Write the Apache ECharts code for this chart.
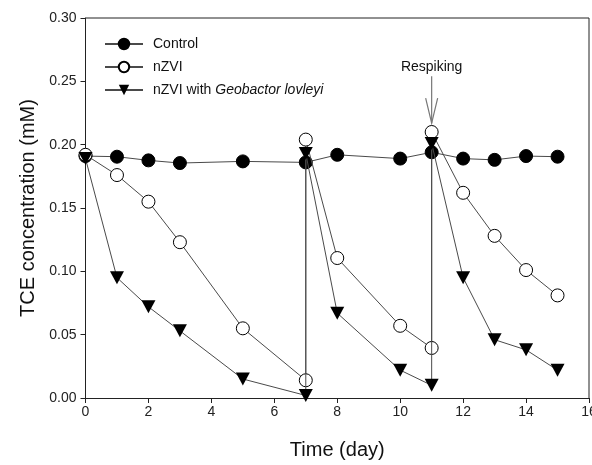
<!DOCTYPE html>
<html>
<head>
<meta charset="utf-8">
<script src="https://cdn.jsdelivr.net/npm/echarts@6/dist/echarts.min.js"></script>
<style>
html,body{margin:0;padding:0;background:#fff;}
#c{width:592px;height:465px;}
</style>
</head>
<body>
<div id="c"></div>
<script>
// ---- data ----
const controlDays = [0, 1, 2, 3, 5, 7, 8, 10, 11, 12, 13, 14, 15];
const controlTCE  = [0.191, 0.1905, 0.1876, 0.1855, 0.1868, 0.186, 0.192, 0.189, 0.194, 0.189, 0.188, 0.191, 0.1905];

const nzviDays = [0, 1, 2, 3, 5, 7, 7, 8, 10, 11, 11, 12, 13, 14, 15];
const nzviTCE  = [0.192, 0.176, 0.155, 0.123, 0.055, 0.014, 0.204, 0.1105, 0.057, 0.0395, 0.21, 0.162, 0.128, 0.101, 0.081];

const geoDays = [0, 1, 2, 3, 5, 7, 7, 8, 10, 11, 11, 12, 13, 14, 15];
const geoTCE  = [0.189, 0.095, 0.072, 0.053, 0.015, 0.002, 0.193, 0.067, 0.022, 0.01, 0.201, 0.095, 0.046, 0.038, 0.022];

const seriesNames = ['Control', 'nZVI', 'nZVI with Geobactor lovleyi'];
const respikeDay = 11;
const respikeLabel = 'Respiking';

// ---- chart ----
const font = 'Arial, "Liberation Sans", sans-serif';
const lineCol = '#4a4a4a';
const triPath = 'path://M0,0 L10,0 L5,9 Z';
const pair = (xs, ys) => xs.map((x, i) => [x, ys[i]]);

const chart = echarts.init(document.getElementById('c'), null, {renderer: 'canvas'});
chart.setOption({
  animation: false,
  backgroundColor: '#fff',
  textStyle: {fontFamily: font},
  grid: {left: 85.5, right: 3, top: 18, bottom: 67, show: false, containLabel: false, outerBoundsMode: 'none'},
  legend: {
    orient: 'vertical', left: 99, top: 32,
    itemWidth: 38, itemHeight: 13, itemGap: 9,
    textStyle: {fontSize: 14, color: '#111', fontFamily: font, padding: [0, 0, 0, 5],
      rich: {n: {fontSize: 14, color: '#111', fontFamily: font},
             i: {fontSize: 14, color: '#111', fontFamily: font, fontStyle: 'italic'}}},
    formatter: function (name) {
      if (name === seriesNames[2]) return '{n|nZVI with }{i|Geobactor lovleyi}';
      return '{n|' + name + '}';
    },
    data: seriesNames
  },
  xAxis: {
    type: 'value', min: 0, max: 16, interval: 2,
    name: 'Time (day)', nameLocation: 'middle', nameGap: 42,
    nameTextStyle: {fontSize: 20, color: '#111', fontFamily: font},
    axisLine: {show: true, lineStyle: {color: '#222', width: 1}},
    axisTick: {show: true, inside: false, length: 5, lineStyle: {color: '#222'}},
    axisLabel: {fontSize: 14, color: '#222', margin: 7, fontFamily: font},
    splitLine: {show: false}
  },
  yAxis: {
    type: 'value', min: 0, max: 0.3, interval: 0.05,
    name: 'TCE concentration (mM)', nameLocation: 'middle', nameGap: 41,
    nameTextStyle: {fontSize: 20, color: '#111', fontFamily: font},
    axisLine: {show: true, lineStyle: {color: '#222', width: 1}},
    axisTick: {show: true, inside: false, length: 5, lineStyle: {color: '#222'}},
    axisLabel: {fontSize: 14, color: '#222', margin: 9, fontFamily: font,
      formatter: v => v.toFixed(2)},
    splitLine: {show: false}
  },
  series: [
    {
      name: seriesNames[0], type: 'line', data: pair(controlDays, controlTCE),
      symbol: 'circle', symbolSize: 13, z: 2,
      itemStyle: {color: '#000', borderColor: '#000', borderWidth: 1},
      lineStyle: {color: lineCol, width: 1}
    },
    {
      name: seriesNames[1], type: 'line', data: pair(nzviDays, nzviTCE),
      symbol: 'circle', symbolSize: 13, z: 3,
      itemStyle: {color: '#fff', borderColor: '#000', borderWidth: 1},
      lineStyle: {color: lineCol, width: 1}
    },
    {
      name: seriesNames[2], type: 'line', data: pair(geoDays, geoTCE),
      symbol: triPath, symbolSize: [14, 13], z: 4,
      itemStyle: {color: '#000', borderColor: '#000', borderWidth: 0},
      lineStyle: {color: lineCol, width: 1}
    }
  ]
});

// frame (top & right edges) and respiking annotation, positioned from data coordinates
function px(x, y) { return chart.convertToPixel({gridIndex: 0}, [x, y]); }
const p00 = px(0, 0), p11 = px(16, 0.3);
const tText = px(respikeDay, 0.2615);
const aTop = px(respikeDay, 0.254);
const aTip = px(respikeDay, 0.217);
chart.setOption({
  graphic: [
    {type: 'polyline', shape: {points: [[p00[0], p11[1]], [p11[0], p11[1]], [p11[0], p00[1]]]},
     style: {stroke: '#222', lineWidth: 1, fill: null}},
    {type: 'text', x: tText[0], y: tText[1],
     style: {text: respikeLabel, font: '14px ' + font, fill: '#111', align: 'center', verticalAlign: 'middle'}},
    {type: 'line', shape: {x1: aTop[0], y1: aTop[1], x2: aTip[0], y2: aTip[1]},
     style: {stroke: '#777', lineWidth: 1.2}},
    {type: 'polyline', shape: {points: [[aTip[0] - 6, aTip[1] - 25], [aTip[0], aTip[1]], [aTip[0] + 6, aTip[1] - 25]]},
     style: {stroke: '#777', lineWidth: 1.2, fill: null}}
  ]
});
</script>
</body>
</html>
